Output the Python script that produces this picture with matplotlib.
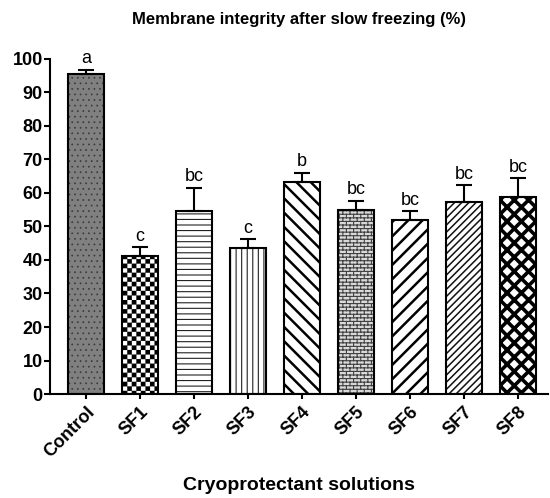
import numpy as np
import matplotlib
matplotlib.use('Agg')
import matplotlib as mpl
import matplotlib.pyplot as plt
import matplotlib.hatch as mhatch
from matplotlib.path import Path

# ---------------- data ----------------
categories = ['Control', 'SF1', 'SF2', 'SF3', 'SF4', 'SF5', 'SF6', 'SF7', 'SF8']
means = [95.6, 41.3, 54.6, 43.6, 63.3, 55.0, 52.0, 57.4, 58.8]
errors = [1.2, 2.5, 7.0, 2.6, 2.8, 2.7, 2.5, 5.0, 5.6]
letters = ['a', 'c', 'bc', 'c', 'b', 'bc', 'bc', 'bc', 'bc']
yticks = list(range(0, 101, 10))
title = 'Membrane integrity after slow freezing (%)'
xlabel = 'Cryoprotectant solutions'


# ---------------- custom hatch textures ----------------
class CheckerHatch(mhatch.HatchPatternBase):
    def __init__(self, hatch, density):
        self.n = 22 * hatch.count('*')
        self.cells = [(i, j) for i in range(self.n) for j in range(self.n)
                      if (i + j) % 2 == 0]
        self.num_vertices = len(self.cells) * 5

    def set_vertices_and_codes(self, vertices, codes):
        s = 1.0 / self.n
        sq = np.array([[0, 0], [1, 0], [1, 1], [0, 1], [0, 0]], float) * s
        parts = [sq + [i * s, j * s] for i, j in self.cells]
        vertices[:] = np.concatenate(parts)
        codes[:] = np.tile([Path.MOVETO, Path.LINETO, Path.LINETO,
                            Path.LINETO, Path.CLOSEPOLY], len(self.cells))


class BrickHatch(mhatch.HatchPatternBase):
    def __init__(self, hatch, density):
        k = hatch.count('O')
        segs = []
        if k:
            rows, cols = 28 * k, 14 * k
            for r in range(rows):
                y0, y1 = r / rows, (r + 1) / rows
                segs.append(((0, y0), (1, y0)))
                off = 0.5 if r % 2 else 0.0
                for c in range(cols + 1):
                    xx = (c + off) / cols
                    if xx <= 1.0:
                        segs.append(((xx, y0), (xx, y1)))
            segs.append(((0, 1), (1, 1)))
        self.segs = segs
        self.num_vertices = 2 * len(segs)

    def set_vertices_and_codes(self, vertices, codes):
        vertices[:] = np.array(self.segs, float).reshape(-1, 2)
        codes[:] = np.tile([Path.MOVETO, Path.LINETO], len(self.segs))


class NEHatch(mhatch.HatchPatternBase):
    def __init__(self, hatch, density):
        self.num_lines = 14 * (hatch.count('/') + hatch.count('x')
                               + hatch.count('X'))
        self.num_vertices = 2 * (self.num_lines + 1) if self.num_lines else 0

    def set_vertices_and_codes(self, vertices, codes):
        steps = np.linspace(-0.5, 0.5, self.num_lines + 1)
        vertices[0::2, 0] = 0.0 + steps
        vertices[0::2, 1] = 0.0 - steps
        vertices[1::2, 0] = 1.0 + steps
        vertices[1::2, 1] = 1.0 - steps
        codes[0::2] = Path.MOVETO
        codes[1::2] = Path.LINETO


class SEHatch(mhatch.HatchPatternBase):
    def __init__(self, hatch, density):
        self.num_lines = 14 * (hatch.count('\\') + hatch.count('x')
                               + hatch.count('X'))
        self.num_vertices = 2 * (self.num_lines + 1) if self.num_lines else 0

    def set_vertices_and_codes(self, vertices, codes):
        steps = np.linspace(-0.5, 0.5, self.num_lines + 1)
        vertices[0::2, 0] = 0.0 + steps
        vertices[0::2, 1] = 1.0 + steps
        vertices[1::2, 0] = 1.0 + steps
        vertices[1::2, 1] = 0.0 + steps
        codes[0::2] = Path.MOVETO
        codes[1::2] = Path.LINETO


_swap = {mhatch.Stars: CheckerHatch, mhatch.LargeCircles: BrickHatch,
         mhatch.NorthEastHatch: NEHatch, mhatch.SouthEastHatch: SEHatch}
mhatch._hatch_types[:] = [_swap.get(t, t) for t in mhatch._hatch_types]

plt.rcParams['font.family'] = ['Liberation Sans', 'DejaVu Sans']

styles = [
    dict(face='#808080', hatch='...', hc='#3a3a3a', hlw=0.5),
    dict(face='white', hatch='*', hc='black', hlw=0.1),
    dict(face='white', hatch='---', hc='#222222', hlw=0.8),
    dict(face='white', hatch='|||', hc='#222222', hlw=0.8),
    dict(face='white', hatch='\\', hc='black', hlw=1.8),
    dict(face='#d9d9d9', hatch='O', hc='#404040', hlw=0.8),
    dict(face='white', hatch='/', hc='black', hlw=1.8),
    dict(face='white', hatch='//', hc='#111111', hlw=1.1),
    dict(face='white', hatch='x', hc='black', hlw=2.6),
]


def wrap_draw(orig, lw):
    def draw(renderer, *a, **k):
        with mpl.rc_context({'hatch.linewidth': lw}):
            return orig(renderer, *a, **k)
    return draw


fig = plt.figure(figsize=(5.5, 4.98), dpi=100)
ax = fig.add_axes([50 / 550, 104 / 498, 498 / 550, 335 / 498])

x = np.arange(len(categories))
bw = 0.67
for i, st in enumerate(styles):
    with mpl.rc_context({'hatch.linewidth': st['hlw']}):
        b = ax.bar(x[i], means[i], width=bw, color=st['face'],
                   edgecolor=st['hc'], linewidth=0, hatch=st['hatch'], zorder=2)
    for p in b.patches:
        if hasattr(p, 'set_hatch_linewidth'):
            p.set_hatch_linewidth(st['hlw'])
        p.draw = wrap_draw(p.draw, st['hlw'])

ax.bar(x, means, width=bw, facecolor='none', edgecolor='black',
       linewidth=1.5, zorder=3)
ax.errorbar(x, means, yerr=[np.zeros(len(means)), errors], fmt='none',
            ecolor='black', elinewidth=1.5, capsize=6, capthick=1.5, zorder=4)

for i in range(len(categories)):
    ax.annotate(letters[i], (x[i], means[i] + errors[i]), xytext=(0, 4.5),
                textcoords='offset points', ha='center', va='baseline',
                fontsize=13)

ax.set_xlim(-0.667, 8.556)
ax.set_ylim(0, 100)
ax.set_yticks(yticks)
ax.set_yticklabels([str(v) for v in yticks], fontsize=13, fontweight='bold')
ax.set_xticks(x)
ax.set_xticklabels(categories, fontsize=13, fontweight='bold', rotation=45,
                   ha='right', rotation_mode='anchor')
for s in ['top', 'right']:
    ax.spines[s].set_visible(False)
for s in ['left', 'bottom']:
    ax.spines[s].set_linewidth(1.5)
ax.tick_params(axis='y', direction='out', length=4.3, width=1.5, pad=1)
ax.tick_params(axis='x', direction='out', length=3.6, width=1.5, pad=3)

ax.set_title(title, fontsize=12, fontweight='bold', pad=25)
fig.text(299 / 550, 8 / 498, xlabel, ha='center', va='baseline',
         fontsize=14, fontweight='bold')

fig.savefig('out.png', dpi=100)
